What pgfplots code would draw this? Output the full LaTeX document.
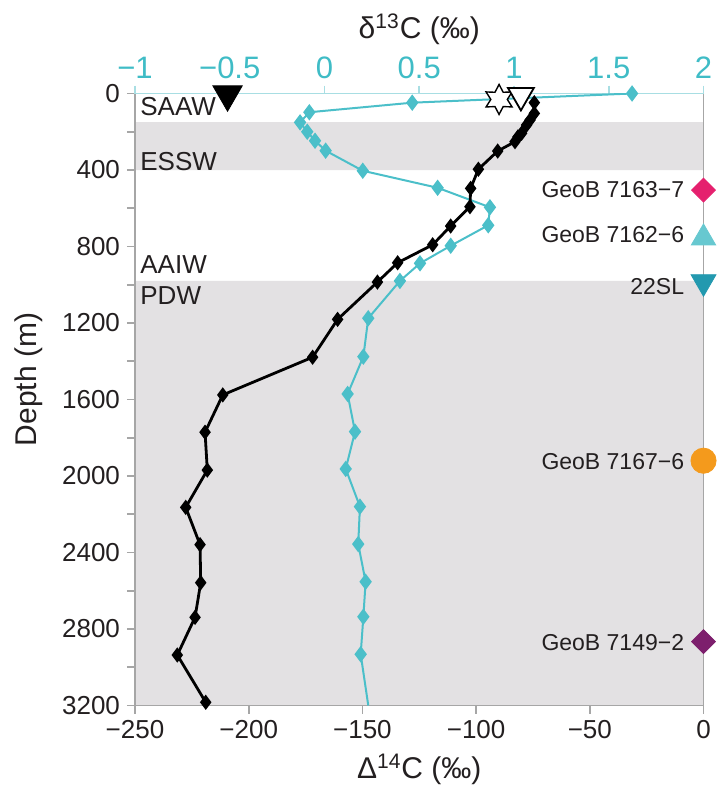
\documentclass[border=0pt]{standalone}
\usepackage{fontspec}
\setmainfont{Liberation Sans}
\usepackage{pgfplots}
\pgfplotsset{compat=1.18}

\definecolor{txt}{HTML}{231F20}
\definecolor{axgray}{HTML}{A6A6A6}
\definecolor{bandgray}{HTML}{E3E1E3}
\definecolor{cyanline}{HTML}{4BBFC9}
\definecolor{cyanaxis}{HTML}{A8DEE3}
\definecolor{cyantick}{HTML}{3FBCC6}
\definecolor{mpink}{HTML}{E5206E}
\definecolor{mcyan}{HTML}{67C8D0}
\definecolor{mteal}{HTML}{2399AF}
\definecolor{morange}{HTML}{F49A1C}
\definecolor{mpurple}{HTML}{7D1F6D}

% six-pointed star mark
\pgfdeclareplotmark{hexstar}{%
  \pgfpathmoveto{\pgfpointpolar{90}{\pgfplotmarksize}}%
  \pgfpathlineto{\pgfpointpolar{120}{0.55\pgfplotmarksize}}%
  \pgfpathlineto{\pgfpointpolar{150}{\pgfplotmarksize}}%
  \pgfpathlineto{\pgfpointpolar{180}{0.55\pgfplotmarksize}}%
  \pgfpathlineto{\pgfpointpolar{210}{\pgfplotmarksize}}%
  \pgfpathlineto{\pgfpointpolar{240}{0.55\pgfplotmarksize}}%
  \pgfpathlineto{\pgfpointpolar{270}{\pgfplotmarksize}}%
  \pgfpathlineto{\pgfpointpolar{300}{0.55\pgfplotmarksize}}%
  \pgfpathlineto{\pgfpointpolar{330}{\pgfplotmarksize}}%
  \pgfpathlineto{\pgfpointpolar{0}{0.55\pgfplotmarksize}}%
  \pgfpathlineto{\pgfpointpolar{30}{\pgfplotmarksize}}%
  \pgfpathlineto{\pgfpointpolar{60}{0.55\pgfplotmarksize}}%
  \pgfpathclose
  \pgfusepathqfillstroke}

\pgfplotsset{
  base/.style={
    scale only axis, width=284.25pt, height=306pt,
    at={(0,0)}, anchor=south west,
    ymin=0, ymax=3200, y dir=reverse},
}

\begin{document}
\begin{tikzpicture}
\path[use as bounding box] (-67.5pt,-47.75pt) rectangle (290.5pt,352.75pt);

% bottom axis: Delta14C, depth, bands
\begin{axis}[base,
  xmin=-250, xmax=0,
  axis on top,
  xtick={-250,-200,-150,-100,-50,0},
  xticklabels={−250,−200,−150,−100,−50,0},
  ytick={0,400,800,1200,1600,2000,2400,2800,3200},
  yticklabels={0,400,800,1200,1600,2000,2400,2800,3200},
  minor ytick={200,600,...,3000},
  xtick pos=bottom, ytick pos=left,
  tick align=outside,
  major tick length=4pt, minor tick length=4pt,
  axis line style={axgray, line width=0.9pt},
  every tick/.style={axgray, line width=0.8pt},
  every minor tick/.style={axgray, line width=0.8pt},
  tick label style={txt, font=\fontsize{13}{15}\selectfont},
  xlabel={Δ\textsuperscript{14}C (‰)},
  ylabel={Depth (m)},
  every axis x label/.style={at={(axis description cs:0.5,0)}, anchor=center, yshift=-32pt, txt, font=\fontsize{15}{18}\selectfont},
  every axis y label/.style={at={(axis description cs:0,0.5)}, anchor=center, rotate=90, xshift=10pt, yshift=53pt, txt, font=\fontsize{15}{18}\selectfont},
]
\addplot[fill=bandgray, draw=none] coordinates {(-250,150) (0,150) (0,400) (-250,400) (-250,150)};
\addplot[fill=bandgray, draw=none] coordinates {(-250,980) (0,980) (0,3200) (-250,3200) (-250,980)};
\begin{scope}[every node/.style={anchor=west, inner sep=0pt, xshift=2.5pt, txt, font=\fontsize{13}{15}\selectfont}]
\node at (axis cs:-250,70) {SAAW};
\node at (axis cs:-250,358) {ESSW};
\node at (axis cs:-250,897) {AAIW};
\node at (axis cs:-250,1059) {PDW};
\end{scope}
\end{axis}

% top axis: delta13C
\begin{axis}[base,
  xmin=-1, xmax=2,
  axis x line*=top, axis y line=none,
  xtick={-1,-0.5,0,0.5,1,1.5,2},
  xticklabels={−1,−0.5,0,0.5,1,1.5,2},
  tick align=outside, major tick length=4pt,
  axis line style={cyanaxis, line width=0.9pt},
  every tick/.style={cyanaxis, line width=0.8pt},
  tick label style={cyantick, font=\fontsize{15.5}{18}\selectfont},
  xlabel={δ\textsuperscript{13}C (‰)},
  every axis x label/.style={at={(axis description cs:0.5,1)}, anchor=center, yshift=32pt, txt, font=\fontsize{15}{18}\selectfont},
]
\addplot[cyanline, line width=1pt, mark=diamond*, mark size=3.3pt, mark options={fill=cyanline, draw=cyanline}]
  coordinates {
  (1.623,0) (0.463,48) (-0.080,98) (-0.129,151) (-0.091,200) (-0.050,247)
  (0.006,299) (0.202,404) (0.597,493) (0.873,595) (0.864,689) (0.666,796)
  (0.504,888) (0.398,980) (0.231,1175) (0.205,1376) (0.122,1571) (0.161,1768)
  (0.112,1963) (0.187,2160) (0.178,2356) (0.217,2553) (0.205,2736) (0.191,2932)
  };
\addplot[cyanline, line width=1pt, no markers] coordinates {(0.191,2932) (0.231,3200)};
\end{axis}

% overlay: Delta14C profile and site markers
\begin{axis}[base, xmin=-250, xmax=0, hide axis, clip=false]
\addplot[only marks, mark=hexstar, mark size=7.5pt, mark options={fill=white, draw=black, line width=0.7pt}]
  coordinates {(-89.9,31)};
\addplot[only marks, mark=triangle*, mark size=7.5pt, mark options={rotate=180, fill=white, draw=black, line width=0.9pt}]
  coordinates {(-80.3,10)};
\addplot[only marks, mark=triangle*, mark size=8.5pt, mark options={rotate=180, fill=black, draw=black}]
  coordinates {(-209.3,4)};
\addplot[black, line width=1.4pt, mark=diamond*, mark size=3.1pt, mark options={fill=black, draw=black, line width=0.9pt}]
  coordinates {
  (-74.4,48) (-74.4,104) (-76.3,139) (-77.8,165) (-80.0,208) (-81.6,227)
  (-82.9,252) (-90.5,301) (-99.0,396) (-102.4,496) (-102.7,592) (-111.2,693)
  (-119.1,791) (-134.5,885) (-143.4,986) (-160.9,1181) (-171.9,1379)
  (-211.4,1576) (-219.2,1771) (-218.2,1969) (-227.7,2164) (-221.4,2359)
  (-221.1,2558) (-223.6,2739) (-231.4,2936) (-218.9,3183)
  };
% site markers on the right edge
\addplot[only marks, mark=square*, mark size=4.2pt, mark options={rotate=45, fill=mpink, draw=mpink}] coordinates {(0,505)};
\addplot[only marks, mark=triangle*, mark size=7pt, mark options={fill=mcyan, draw=mcyan}] coordinates {(0,755)};
\addplot[only marks, mark=triangle*, mark size=7.2pt, mark options={rotate=180, fill=mteal, draw=mteal}] coordinates {(0,985)};
\addplot[only marks, mark=*, mark size=6.3pt, mark options={fill=morange, draw=morange}] coordinates {(0,1920)};
\addplot[only marks, mark=square*, mark size=4.2pt, mark options={rotate=45, fill=mpurple, draw=mpurple}] coordinates {(0,2866)};
\begin{scope}[every node/.style={anchor=east, inner sep=0pt, xshift=-9.5pt, txt, font=\fontsize{11.5}{14}\selectfont}]
\node at (axis cs:0,505) {GeoB 7163−7};
\node at (axis cs:0,740) {GeoB 7162−6};
\node at (axis cs:0,1010) {22SL};
\node at (axis cs:0,1925) {GeoB 7167−6};
\node at (axis cs:0,2873) {GeoB 7149−2};
\end{scope}
\end{axis}
\end{tikzpicture}
\end{document}
